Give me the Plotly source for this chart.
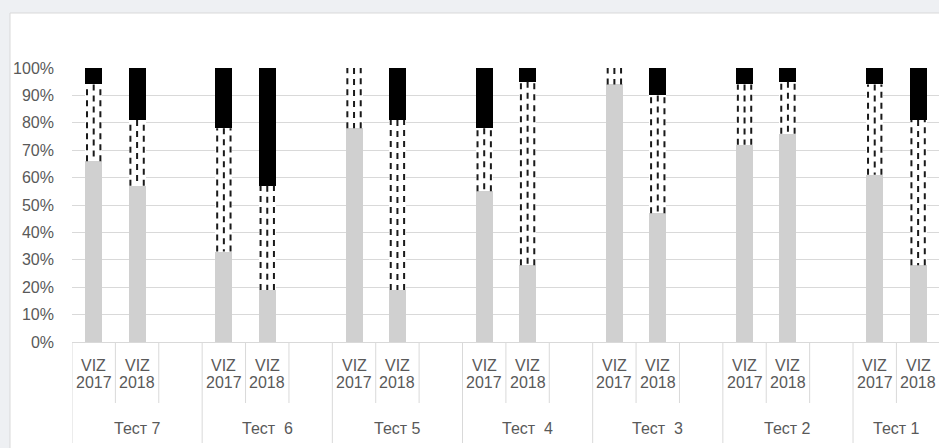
import plotly.graph_objects as go

# Test groups (left to right) and the two survey years shown in every group
groups = ["Тест 7", "Тест\u00a0\u00a06", "Тест 5", "Тест\u00a0\u00a04", "Тест\u00a0\u00a03", "Тест 2", "Тест 1"]
series = ["2017", "2018"]
series_prefix = "VIZ"

# Segment shares, %, in group order: lower (grey), middle (dashed), upper (black)
low_2017 = [66, 33, 78, 55, 94, 72, 61]
mid_2017 = [28, 45, 22, 23, 6, 22, 33]
top_2017 = [6, 22, 0, 22, 0, 6, 6]

low_2018 = [57, 19, 19, 28, 47, 76, 28]
mid_2018 = [24, 38, 62, 67, 43, 19, 53]
top_2018 = [19, 43, 19, 5, 10, 5, 19]

y_ticks = [0, 10, 20, 30, 40, 50, 60, 70, 80, 90, 100]

# ---- layout constants --------------------------------------------------
W, H = 939, 448
M_L, M_R, M_T, M_B = 72, 0, 68, 106
SLOT_PX = 43.39                       # width of one category slot
SLOTS_PER_GROUP = 3                   # two bars + one empty slot
X_MIN = -0.5
X_MAX = X_MIN + (W - M_L - M_R) / SLOT_PX
BAR_W = 0.39
DASH_OFF = 0.154
TXT = "#595959"
GRID = "#d9d9d9"
FONT = "Liberation Sans, Arial, sans-serif"

plot_h = H - M_T - M_B


def py_to_paper(py):
    return (H - M_B - py) / plot_h


def px_to_paper(px):
    return (px - M_L) / (W - M_L - M_R)


lows = [low_2017, low_2018]
mids = [mid_2017, mid_2018]
tops = [top_2017, top_2018]

xs, low_v, mid_v, top_v = [], [], [], []
for g in range(len(groups)):
    for s in range(len(series)):
        xs.append(g * SLOTS_PER_GROUP + s)
        low_v.append(lows[s][g] / 100)
        mid_v.append(mids[s][g] / 100)
        top_v.append(tops[s][g] / 100)

fig = go.Figure()
fig.add_trace(go.Bar(x=xs, y=low_v, width=BAR_W, marker=dict(color="#d0d0d0", line_width=0),
                     hoverinfo="skip"))
fig.add_trace(go.Bar(x=xs, y=mid_v, width=BAR_W, marker=dict(color="white", line_width=0),
                     hoverinfo="skip"))
fig.add_trace(go.Bar(x=xs, y=top_v, width=BAR_W, marker=dict(color="#000000", line_width=0),
                     hoverinfo="skip"))

# dashed strokes filling the middle segment
ex, ey, cx, cy = [], [], [], []
for x, lo, mi in zip(xs, low_v, mid_v):
    if mi <= 0:
        continue
    y0, y1 = lo, lo + mi
    for off in (-DASH_OFF, DASH_OFF):
        ex += [x + off, x + off, None]
        ey += [y0, y1, None]
    cx += [x, x, None]
    cy += [y1, y0, None]

dash_line = dict(color="#1a1a1a", width=2, dash="6px,5px")
fig.add_trace(go.Scatter(x=ex, y=ey, mode="lines", line=dash_line, hoverinfo="skip"))
fig.add_trace(go.Scatter(x=cx, y=cy, mode="lines", line=dash_line, hoverinfo="skip"))

shapes = []
annotations = []

# white chart area with a thin frame on a light grey page
shapes.append(dict(type="rect", xref="paper", yref="paper", layer="below",
                   x0=px_to_paper(10), x1=px_to_paper(W + 20),
                   y0=py_to_paper(H + 20), y1=py_to_paper(13),
                   fillcolor="white", line=dict(color=GRID, width=1)))

# category separators and labels
y_viz = py_to_paper(366)
y_year = py_to_paper(382)
y_grp = py_to_paper(428)
y_short = py_to_paper(403)
y_long = py_to_paper(443)

for g, name in enumerate(groups):
    start = g * SLOTS_PER_GROUP - 0.5
    for k in range(len(series) + 1):
        xb = start + k
        if xb > X_MAX:
            continue
        shapes.append(dict(type="line", xref="x", yref="paper", x0=xb, x1=xb,
                           y0=0, y1=y_long if k == 0 else y_short,
                           line=dict(color=GRID, width=1)))
    for s, yr in enumerate(series):
        xc = g * SLOTS_PER_GROUP + s
        annotations.append(dict(x=xc, y=y_viz, xref="x", yref="paper", text=series_prefix,
                                showarrow=False, yanchor="middle",
                                font=dict(size=16, color=TXT, family=FONT)))
        annotations.append(dict(x=xc, y=y_year, xref="x", yref="paper", text=yr,
                                showarrow=False, yanchor="middle",
                                font=dict(size=16, color=TXT, family=FONT)))
    end = min(start + SLOTS_PER_GROUP, X_MAX)
    annotations.append(dict(x=(start + end) / 2, y=y_grp, xref="x", yref="paper", text=name,
                            showarrow=False, yanchor="middle",
                            font=dict(size=16, color=TXT, family=FONT)))

fig.update_layout(
    width=W, height=H,
    margin=dict(l=M_L, r=M_R, t=M_T, b=M_B, pad=0),
    paper_bgcolor="#eef0f3",
    plot_bgcolor="rgba(0,0,0,0)",
    barmode="stack",
    bargap=0,
    showlegend=False,
    shapes=shapes,
    annotations=annotations,
    font=dict(family=FONT, size=16, color=TXT),
    xaxis=dict(range=[X_MIN, X_MAX], showgrid=False, zeroline=False, showticklabels=False,
               showline=True, linecolor=GRID, linewidth=1, ticks="", fixedrange=True),
    yaxis=dict(range=[0, 1], tickvals=[t / 100 for t in y_ticks], tickformat=".0%",
               showgrid=True, gridcolor=GRID, gridwidth=1, zeroline=False, showline=False,
               ticks="", ticklabelstandoff=17, tickfont=dict(size=16, color=TXT, family=FONT),
               fixedrange=True),
)

fig.write_html("out.html")
